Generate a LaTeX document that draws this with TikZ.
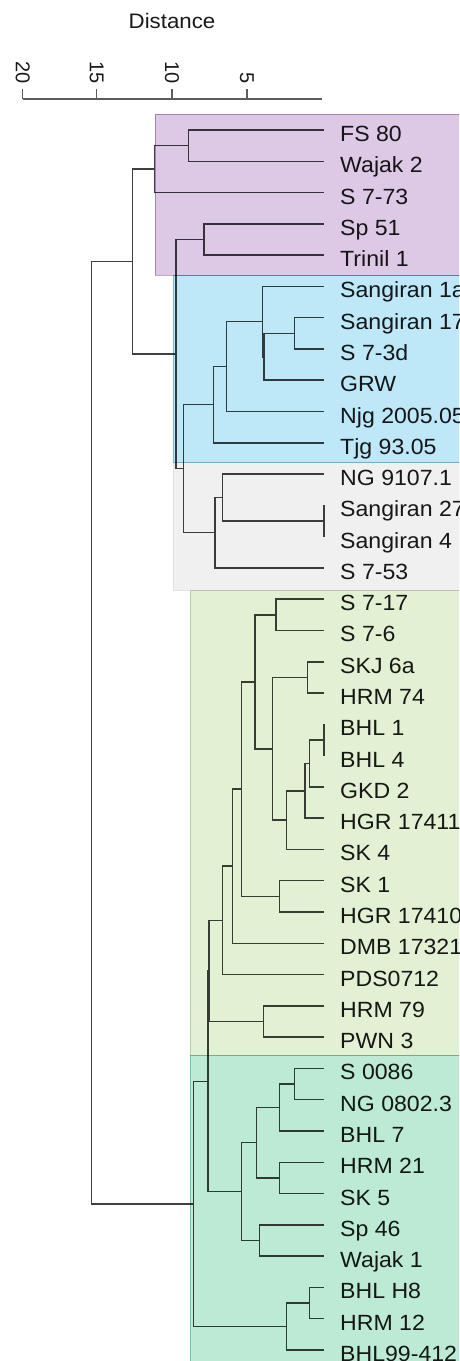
\documentclass[tikz,border=0pt]{standalone}
\usepackage{fontspec}
\setmainfont{Liberation Sans}
\usetikzlibrary{calc}
\definecolor{cpurple}{HTML}{DDC9E5}
\definecolor{cblue}{HTML}{BEE8F8}
\definecolor{cgray}{HTML}{F0F0F0}
\definecolor{clgreen}{HTML}{E2F0D4}
\definecolor{cmint}{HTML}{BDEAD5}
\definecolor{linecol}{HTML}{404040}
\definecolor{textcol}{HTML}{1A1A1A}
\begin{document}
\begin{tikzpicture}[x=1pt,y=-1pt,
  branch/.style={draw=linecol, line width=1.5pt, line join=miter},
  leaflabel/.style={anchor=base west, inner sep=0pt, xscale=1.05, text=textcol, font=\fontsize{22}{22}\selectfont},
  axisline/.style={draw=linecol!85, line width=1.5pt},
  ticklabel/.style={rotate=-90, anchor=east, inner sep=0pt, text=textcol, font=\fontsize{20}{20}\selectfont},
  titlelabel/.style={inner sep=0pt, xscale=1.06, text=textcol, font=\fontsize{21}{21}\selectfont},
  region/.style={line width=0.8pt}]
\clip (0,0) rectangle (459,1361);
\fill[white] (0,0) rectangle (459,1361);

% axis
\node[titlelabel] (title) at (172,21) {Distance};
\coordinate (ax0) at (22.7,99);
\coordinate (ax1) at (322,99);
\draw[axisline] (ax0) -- (ax1);
\foreach \v/\x in {20/22.7,15/96.7,10/172,5/247}{
  \coordinate (tk\v) at (\x,99);
  \draw[axisline] (tk\v) -- ++(0,-10);
  \node[ticklabel] (tl\v) at (\x,84) {\v};
}

% leaves
\foreach \t [count=\i from 0] in {FS 80,Wajak 2,S 7-73,Sp 51,Trinil 1,Sangiran 1a,Sangiran 17,S 7-3d,GRW,Njg 2005.05,Tjg 93.05,NG 9107.1,Sangiran 27,Sangiran 4,S 7-53,S 7-17,S 7-6,SKJ 6a,HRM 74,BHL 1,BHL 4,GKD 2,HGR 17411,SK 4,SK 1,HGR 17410,DMB 17321,PDS0712,HRM 79,PWN 3,S 0086,NG 0802.3,BHL 7,HRM 21,SK 5,Sp 46,Wajak 1,BHL H8,HRM 12,BHL99-412}{
  \coordinate (l\i) at (324,130+31.28*\i);
  \node[leaflabel] (t\i) at (340,130+31.28*\i+11.5) {\t};
}

% internal nodes
\coordinate (nFW) at (188.3,145.64);
\coordinate (nFWS) at (154.3,169.1);
\coordinate (nSpT) at (204,239.48);
\coordinate (nF) at (294.3,333.32);
\coordinate (nE2) at (264.2,356.78);
\coordinate (nE1) at (262.6,321.59);
\coordinate (nD) at (226.7,366.56);
\coordinate (nC) at (213.3,404.68);
\coordinate (nI) at (324,521);
\coordinate (nH) at (222.3,497.54);
\coordinate (nG) at (215,532.73);
\coordinate (nB) at (183.3,468.7);
\coordinate (nA) at (176,354.09);
\coordinate (nTop) at (132.7,261.6);
\coordinate (nT) at (276,614.84);
\coordinate (nV) at (307.3,677.4);
\coordinate (nZ) at (324,739.96);
\coordinate (nY) at (309.3,763.42);
\coordinate (nX) at (305,790.79);
\coordinate (nW) at (286.7,820.12);
\coordinate (nU) at (272.3,748.76);
\coordinate (nR) at (255,681.8);
\coordinate (nS) at (279.3,896.36);
\coordinate (nQ) at (241.7,789.08);
\coordinate (nP) at (232.7,866.18);
\coordinate (nM) at (222.3,920.37);
\coordinate (nN) at (263.3,1021.48);
\coordinate (nK2) at (209,970.93);
\coordinate (nAE) at (294.3,1084.04);
\coordinate (nAC) at (279.3,1107.5);
\coordinate (nAD) at (279.3,1177.88);
\coordinate (nAA) at (256.7,1142.69);
\coordinate (nAB) at (259.3,1240.44);
\coordinate (nO) at (241.7,1191.57);
\coordinate (nK1) at (208,1081.25);
\coordinate (nAF) at (309.3,1303);
\coordinate (nL) at (286.7,1326.46);
\coordinate (nJ) at (193.3,1203.86);
\coordinate (root) at (91.7,732.7);

% branches: parent/child pairs
\foreach \p/\c in {nFW/l0,nFW/l1,nFWS/nFW,nFWS/l2,nSpT/l3,nSpT/l4,
  nF/l6,nF/l7,nE2/nF,nE2/l8,nE1/l5,nE1/nE2,nD/nE1,nD/l9,nC/nD,nC/l10,
  nI/l12,nI/l13,nH/l11,nH/nI,nG/nH,nG/l14,nB/nC,nB/nG,nA/nSpT,nA/nB,
  nTop/nFWS,nTop/nA,
  nT/l15,nT/l16,nV/l17,nV/l18,nZ/l19,nZ/l20,nY/nZ,nY/l21,nX/nY,nX/l22,
  nW/nX,nW/l23,nU/nV,nU/nW,nR/nT,nR/nU,nS/l24,nS/l25,nQ/nR,nQ/nS,
  nP/nQ,nP/l26,nM/nP,nM/l27,nN/l28,nN/l29,nK2/nM,nK2/nN,
  nAE/l30,nAE/l31,nAC/nAE,nAC/l32,nAD/l33,nAD/l34,nAA/nAC,nAA/nAD,
  nAB/l35,nAB/l36,nO/nAA,nO/nAB,nK1/nK2,nK1/nO,
  nAF/l37,nAF/l38,nL/nAF,nL/l39,nJ/nK1,nJ/nL,
  root/nTop,root/nJ}{
  \draw[branch] (\p) |- (\c);
}

% coloured groups, multiplied over the tree
\begin{scope}[blend mode=multiply]
\filldraw[region, fill=cpurple, draw=cpurple!85!black] (155,114) rectangle (462,275);
\filldraw[region, fill=cblue, draw=cblue!88!black] (173.3,275) rectangle (462,462.7);
\filldraw[region, fill=cgray, draw=cgray] (173.3,462.7) rectangle (462,590.7);
\filldraw[region, fill=clgreen, draw=clgreen!92!black] (190,590.7) rectangle (462,1055.7);
\filldraw[region, fill=cmint, draw=cmint!90!black] (190,1055.7) rectangle (462,1364);
\end{scope}
\end{tikzpicture}
\end{document}
